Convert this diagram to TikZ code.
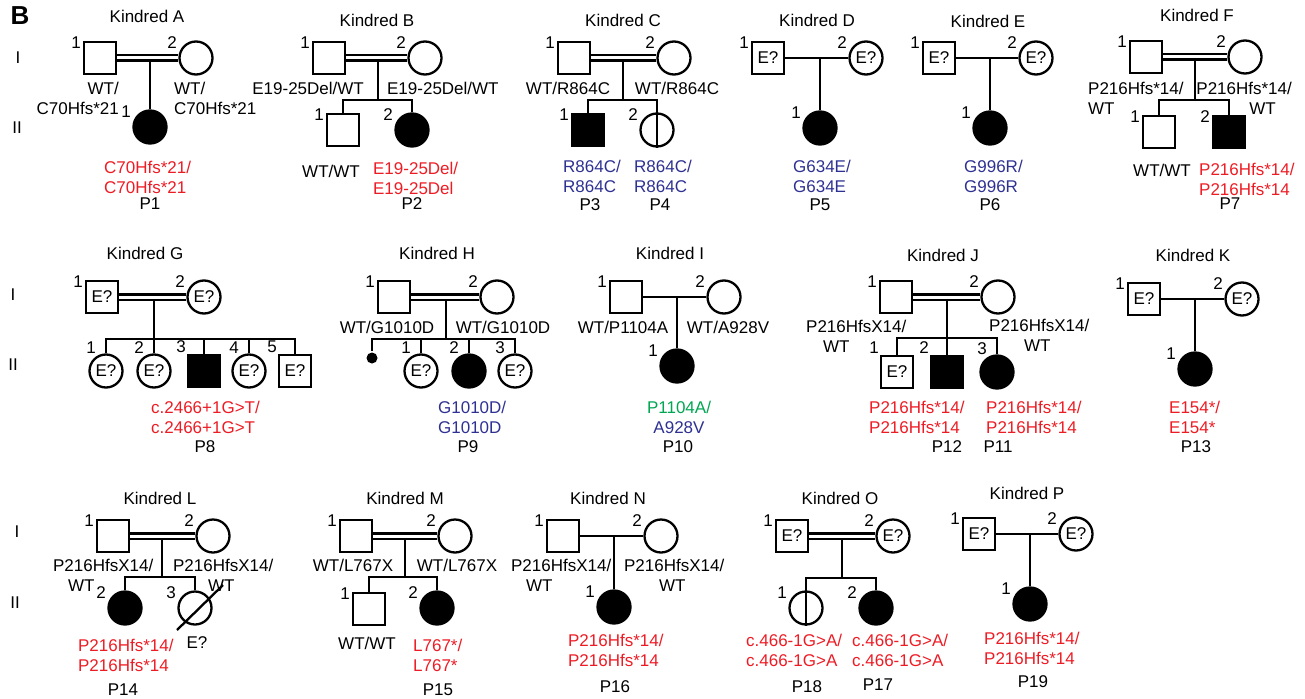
\documentclass[tikz,border=0pt]{standalone}
\usepackage{fontspec}
\setmainfont{Liberation Sans}
\definecolor{mutred}{RGB}{237,28,36}
\definecolor{mutblue}{RGB}{46,49,146}
\definecolor{mutgreen}{RGB}{0,166,81}
\newcommand\pedfont{\fontsize{17}{20}\selectfont}

\begin{document}
\begin{tikzpicture}[x=1pt, y=-1pt, line width=2.3pt,
    male/.style={draw, rectangle, minimum size=32, inner sep=0, font=\pedfont},
    female/.style={draw, circle, minimum size=33, inner sep=0, font=\pedfont},
    aff/.style={fill=black},
    marr/.style={double, double distance=3pt},
    num/.style={font=\pedfont, inner sep=0, anchor=center},
    idx/.style={label={[num, xshift=-24, yshift=15]center:#1}},
    idxhi/.style={label={[num, xshift=-15, yshift=23]center:#1}},
    idxhs/.style={label={[num, xshift=-23, yshift=24]center:#1}},
    kin/.style={font=\pedfont, inner sep=0},
    gt/.style={font=\pedfont, inner sep=0},
    gtl/.style={gt, align=left, anchor=west},
    gtr/.style={gt, align=right, anchor=east}]
    \useasboundingbox (0,0) rectangle (1305,698);

    % Panel letter and generations
    \node[font=\fontsize{26}{26}\selectfont\bfseries, inner sep=0] (lab) at (20,16) {B};
    \node[kin] (rI1) at (18,58) {I};
    \node[kin] (rII1) at (17,128) {II};
    \node[kin] (rI2) at (13,295) {I};
    \node[kin] (rII2) at (13,365) {II};
    \node[kin] (rI3) at (17,532) {I};
    \node[kin] (rII3) at (15,603) {II};

    % Kindred A
    \node[kin] (tA) at (147,16) {Kindred A};
    \node[male, idx=1] (fA) at (100,58) {};
    \node[female, idx=2] (mA) at (196,58) {};
    \node[female, aff, idx=1] (cA1) at (150,127) {};
    \coordinate (uA) at (150,58);
    \draw (uA) -- (cA1);
    \draw[marr] (fA) -- (mA);
    \node[gtr] (gA1) at (120,98) {WT/\\C70Hfs*21};
    \node[gtl] (gA2) at (173,98) {WT/\\C70Hfs*21};
    \node[gtl, text=mutred] (gA3) at (103,177) {C70Hfs*21/\\C70Hfs*21};
    \node[gt] (pA) at (150,204) {P1};

    % Kindred B
    \node[kin] (tB) at (377,20) {Kindred B};
    \node[male, idx=1] (fB) at (329,58) {};
    \node[female, idx=2] (mB) at (425,58) {};
    \node[male, idx=1] (cB1) at (343,130) {};
    \node[female, aff, idx=2] (cB2) at (412,130) {};
    \coordinate (uB) at (378,58);
    \coordinate (sB) at (378,100);
    \draw (uB) -- (sB);
    \draw (cB1) |- (sB) -| (cB2);
    \draw[marr] (fB) -- (mB);
    \node[gtr] (gB1) at (365,88) {E19-25Del/WT};
    \node[gtl] (gB2) at (386,88) {E19-25Del/WT};
    \node[gt] (gB3) at (331,171) {WT/WT};
    \node[gtl, text=mutred] (gB4) at (372,178) {E19-25Del/\\E19-25Del};
    \node[gt] (pB) at (412,204) {P2};

    % Kindred C
    \node[kin] (tC) at (623,20) {Kindred C};
    \node[male, idx=1] (fC) at (574,58) {};
    \node[female, idx=2] (mC) at (674,58) {};
    \node[male, aff, idx=1] (cC1) at (588,130) {};
    \node[female, idx=2] (cC2) at (657,130) {};
    \draw (cC2.north) -- (cC2.south);
    \coordinate (uC) at (623,58);
    \coordinate (sC) at (623,100);
    \draw (uC) -- (sC);
    \draw (cC1) |- (sC) -| (cC2);
    \draw[marr] (fC) -- (mC);
    \node[gt] (gC1) at (568,88) {WT/R864C};
    \node[gt] (gC2) at (677,88) {WT/R864C};
    \node[gtl, text=mutblue] (gC3) at (562,176) {R864C/\\R864C};
    \node[gtl, text=mutblue] (gC4) at (633,176) {R864C/\\R864C};
    \node[gt] (pC3) at (590,205) {P3};
    \node[gt] (pC4) at (660,205) {P4};

    % Kindred D
    \node[kin] (tD) at (817,20) {Kindred D};
    \node[male, idx=1] (fD) at (768,58) {E?};
    \node[female, idx=2] (mD) at (866,58) {E?};
    \node[female, aff, idx=1] (cD1) at (820,128) {};
    \coordinate (uD) at (820,58);
    \draw (uD) -- (cD1);
    \draw (fD) -- (mD);
    \node[gtl, text=mutblue] (gD) at (792,176) {G634E/\\G634E};
    \node[gt] (pD) at (820,205) {P5};

    % Kindred E
    \node[kin] (tE) at (988,21) {Kindred E};
    \node[male, idx=1] (fE) at (939,58) {E?};
    \node[female, idx=2] (mE) at (1036,58) {E?};
    \node[female, aff, idx=1] (cE1) at (990,128) {};
    \coordinate (uE) at (990,58);
    \draw (uE) -- (cE1);
    \draw (fE) -- (mE);
    \node[gtl, text=mutblue] (gE) at (963,176) {G996R/\\G996R};
    \node[gt] (pE) at (990,205) {P6};

    % Kindred F
    \node[kin] (tF) at (1197,15) {Kindred F};
    \node[male, idx=1] (fF) at (1146,57) {};
    \node[female, idx=2] (mF) at (1245,57) {};
    \node[male, idx=1] (cF1) at (1159,132) {};
    \node[male, aff, idx=2] (cF2) at (1229,132) {};
    \coordinate (uF) at (1195,57);
    \coordinate (sF) at (1195,100);
    \draw (uF) -- (sF);
    \draw (cF1) |- (sF) -| (cF2);
    \draw[marr] (fF) -- (mF);
    \node[gtl] (gF1) at (1087,98) {P216Hfs*14/\\WT};
    \node[gtr] (gF2) at (1293,98) {P216Hfs*14/\\WT\hspace*{16pt}};
    \node[gt] (gF3) at (1162,170) {WT/WT};
    \node[gtl, text=mutred] (gF4) at (1198,179) {P216Hfs*14/\\P216Hfs*14};
    \node[gt] (pF) at (1230,204) {P7};

    % Kindred G
    \node[kin] (tG) at (145,253) {Kindred G};
    \node[male, idx=1] (fG) at (102,297) {E?};
    \node[female, idx=2] (mG) at (204,297) {E?};
    \node[female, idxhi=1] (cG1) at (106,371) {E?};
    \node[female, idxhi=2] (cG2) at (154,371) {E?};
    \node[male, aff, idxhs=3] (cG3) at (204,371) {};
    \node[female, idxhi=4] (cG4) at (249,371) {E?};
    \node[male, idxhs=5] (cG5) at (295,371) {E?};
    \coordinate (uG) at (154,297);
    \coordinate (sG) at (154,339);
    \draw (uG) -- (sG);
    \draw (cG1) |- (sG) -| (cG5);
    \foreach \k in {2,3,4}
        \draw (cG\k) -- (cG\k |- sG);
    \draw[marr] (fG) -- (mG);
    \node[gtl, text=mutred] (gG) at (150,417) {c.2466+1G>T/\\c.2466+1G>T};
    \node[gt] (pG) at (205,447) {P8};

    % Kindred H
    \node[kin] (tH) at (437,253) {Kindred H};
    \node[male, idx=1] (fH) at (394,297) {};
    \node[female, idx=2] (mH) at (497,297) {};
    \node[circle, fill=black, minimum size=11, inner sep=0] (dH) at (372,358) {};
    \node[female, idxhi=1] (cH1) at (421,371) {E?};
    \node[female, aff, idxhi=2] (cH2) at (469,371) {};
    \node[female, idxhi=3] (cH3) at (515,371) {E?};
    \coordinate (uH) at (446,297);
    \coordinate (sH) at (446,339);
    \draw (uH) -- (sH);
    \draw (dH) |- (sH) -| (cH3);
    \foreach \k in {1,2}
        \draw (cH\k) -- (cH\k |- sH);
    \draw[marr] (fH) -- (mH);
    \node[gt] (gH1) at (387,327) {WT/G1010D};
    \node[gt] (gH2) at (503,327) {WT/G1010D};
    \node[gtl, text=mutblue] (gH3) at (437,417) {G1010D/\\G1010D};
    \node[gt] (pH) at (468,447) {P9};

    % Kindred I
    \node[kin] (tI) at (670,253) {Kindred I};
    \node[male, idx=1] (fI) at (626,297) {};
    \node[female, idx=2] (mI) at (724,297) {};
    \node[female, aff, idx=1] (cI1) at (677,366) {};
    \coordinate (uI) at (677,297);
    \draw (uI) -- (cI1);
    \draw (fI) -- (mI);
    \node[gt] (gI1) at (623,327) {WT/P1104A};
    \node[gt] (gI2) at (728,327) {WT/A928V};
    \node[gt, align=center] (gI3) at (679,417) {\textcolor{mutgreen}{P1104A/}\\\textcolor{mutblue}{A928V}};
    \node[gt] (pI) at (678,447) {P10};

    % Kindred J
    \node[kin] (tJ) at (943,255) {Kindred J};
    \node[male, idx=1] (fJ) at (896,297) {};
    \node[female, idx=2] (mJ) at (998,297) {};
    \node[male, idxhs=1] (cJ1) at (897,372) {E?};
    \node[male, aff, idxhs=2] (cJ2) at (947,372) {};
    \node[female, aff, idxhi=3] (cJ3) at (997,372) {};
    \coordinate (uJ) at (947,297);
    \coordinate (sJ) at (947,338);
    \draw (uJ) -- (sJ);
    \draw (cJ1) |- (sJ) -| (cJ3);
    \draw (cJ2) -- (sJ);
    \draw[marr] (fJ) -- (mJ);
    \node[gtl] (gJ1) at (805,336) {P216HfsX14/\\\hspace*{17pt}WT};
    \node[gtl] (gJ2) at (988,335) {P216HfsX14/\\\hspace*{35pt}WT};
    \node[gtl, text=mutred] (gJ3) at (868,417) {P216Hfs*14/\\P216Hfs*14};
    \node[gtl, text=mutred] (gJ4) at (985,417) {P216Hfs*14/\\P216Hfs*14};
    \node[gt] (pJ2) at (947,447) {P12};
    \node[gt] (pJ3) at (998,447) {P11};

    % Kindred K
    \node[kin] (tK) at (1193,255) {Kindred K};
    \node[male, idx=1] (fK) at (1144,299) {E?};
    \node[female, idx=2] (mK) at (1242,299) {E?};
    \node[female, aff, idx=1] (cK1) at (1195,369) {};
    \coordinate (uK) at (1195,299);
    \draw (uK) -- (cK1);
    \draw (fK) -- (mK);
    \node[gtl, text=mutred] (gK) at (1168,417) {E154*/\\E154*};
    \node[gt] (pK) at (1196,447) {P13};

    % Kindred L
    \node[kin] (tL) at (160,498) {Kindred L};
    \node[male, idx=1] (fL) at (113,536) {};
    \node[female, idx=2] (mL) at (213,536) {};
    \node[female, aff, idx=2] (cL1) at (125,608) {};
    \node[female, idx=3] (cL2) at (195,608) {};
    \draw ([shift={(-18,22)}]cL2.center) -- ([shift={(28,-23)}]cL2.center);
    \coordinate (uL) at (162,536);
    \coordinate (sL) at (162,577);
    \draw (uL) -- (sL);
    \draw (cL1) |- (sL) -| (cL2);
    \draw[marr] (fL) -- (mL);
    \node[gtl] (gL1) at (52,575) {P216HfsX14/\\\hspace*{15pt}WT};
    \node[gtl] (gL2) at (172,575) {P216HfsX14/\\\hspace*{35pt}WT};
    \node[gtl, text=mutred] (gL3) at (77,655) {P216Hfs*14/\\P216Hfs*14};
    \node[gt] (eL) at (197,643) {E?};
    \node[gt] (pL) at (123,690) {P14};

    % Kindred M
    \node[kin] (tM) at (405,498) {Kindred M};
    \node[male, idx=1] (fM) at (356,536) {};
    \node[female, idx=2] (mM) at (455,536) {};
    \node[male, idx=1] (cM1) at (369,609) {};
    \node[female, aff, idx=2] (cM2) at (437,608) {};
    \coordinate (uM) at (405,536);
    \coordinate (sM) at (405,577);
    \draw (uM) -- (sM);
    \draw (cM1) |- (sM) -| (cM2);
    \draw[marr] (fM) -- (mM);
    \node[gt] (gM1) at (353,565) {WT/L767X};
    \node[gt] (gM2) at (457,565) {WT/L767X};
    \node[gt] (gM3) at (367,643) {WT/WT};
    \node[gtl, text=mutred] (gM4) at (412,655) {L767*/\\L767*};
    \node[gt] (pM) at (438,690) {P15};

    % Kindred N
    \node[kin] (tN) at (608,498) {Kindred N};
    \node[male, idx=1] (fN) at (563,536) {};
    \node[female, idx=2] (mN) at (661,536) {};
    \node[female, aff, idx=1] (cN1) at (614,607) {};
    \coordinate (uN) at (614,536);
    \draw (uN) -- (cN1);
    \draw (fN) -- (mN);
    \node[gtl] (gN1) at (510,575) {P216HfsX14/\\\hspace*{15pt}WT};
    \node[gtl] (gN2) at (623,575) {P216HfsX14/\\\hspace*{35pt}WT};
    \node[gtl, text=mutred] (gN3) at (567,650) {P216Hfs*14/\\P216Hfs*14};
    \node[gt] (pN) at (615,687) {P16};

    % Kindred O
    \node[kin] (tO) at (840,498) {Kindred O};
    \node[male, idx=1] (fO) at (792,536) {E?};
    \node[female, idx=2] (mO) at (893,536) {E?};
    \node[female, idx=1] (cO1) at (806,608) {};
    \draw (cO1.north) -- (cO1.south);
    \node[female, aff, idx=2] (cO2) at (876,608) {};
    \coordinate (uO) at (842,536);
    \coordinate (sO) at (842,578);
    \draw (uO) -- (sO);
    \draw (cO1) |- (sO) -| (cO2);
    \draw[marr] (fO) -- (mO);
    \node[gtl, text=mutred] (gO1) at (745,650) {c.466-1G>A/\\c.466-1G>A};
    \node[gtl, text=mutred] (gO2) at (851,650) {c.466-1G>A/\\c.466-1G>A};
    \node[gt] (pO1) at (807,687) {P18};
    \node[gt] (pO2) at (878,685) {P17};

    % Kindred P
    \node[kin] (tP) at (1027,493) {Kindred P};
    \node[male, idx=1] (fP) at (979,534) {E?};
    \node[female, idx=2] (mP) at (1076,534) {E?};
    \node[female, aff, idx=1] (cP1) at (1030,604) {};
    \coordinate (uP) at (1030,534);
    \draw (uP) -- (cP1);
    \draw (fP) -- (mP);
    \node[gtl, text=mutred] (gP) at (983,648) {P216Hfs*14/\\P216Hfs*14};
    \node[gt] (pP) at (1033,682) {P19};
\end{tikzpicture}
\end{document}
